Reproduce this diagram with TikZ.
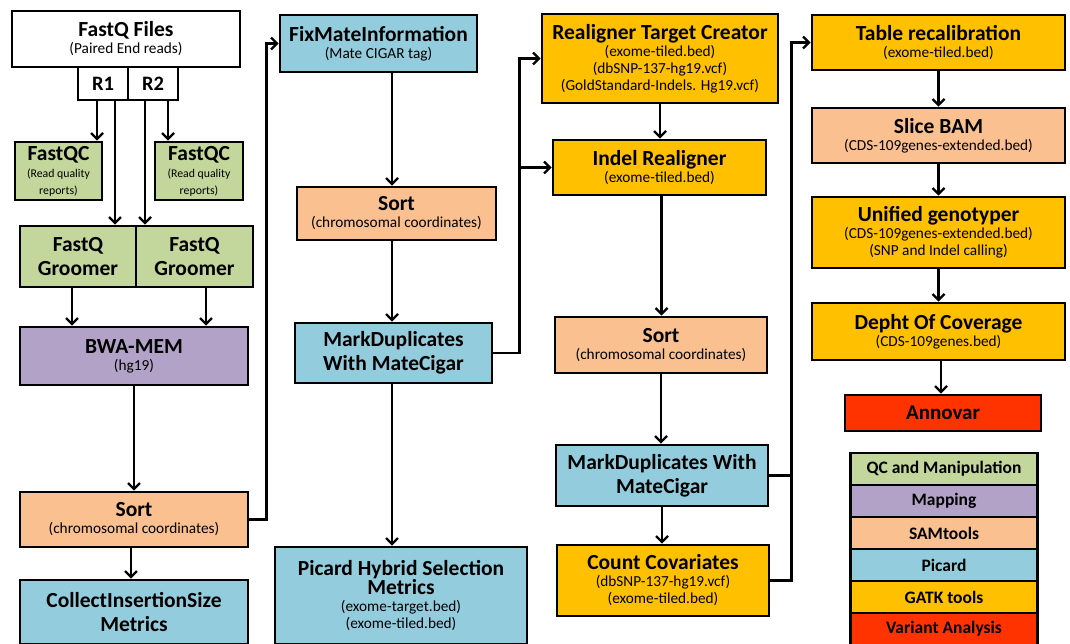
\documentclass[tikz,border=0pt]{standalone}
\usepackage{fontspec}
\setmainfont{Carlito}
\usetikzlibrary{arrows.meta}
\definecolor{cqc}{RGB}{195,214,155}
\definecolor{cmap}{RGB}{179,162,199}
\definecolor{csam}{RGB}{250,192,144}
\definecolor{cpic}{RGB}{147,205,221}
\definecolor{cgatk}{RGB}{255,192,0}
\definecolor{cvar}{RGB}{255,51,0}
\newcommand\hd[1]{{\fontsize{21.5}{24}\selectfont\bfseries #1}}
\newcommand\smalltxt[1]{{\fontsize{11.8}{13.5}\selectfont #1}}
\begin{document}
\begin{tikzpicture}[x=1pt,y=-1pt,
  box/.style={draw=black, line width=2.6pt, align=center, inner sep=1pt, text=black,
    font=\fontsize{15.3}{17}\selectfont},
  bigbox/.style={box, font=\fontsize{21.5}{24}\selectfont\bfseries},
  arr/.style={line width=2.4pt, -{Straight Barb[length=6pt,width=12pt]}},
  ln/.style={line width=2.4pt},
  leg/.style={draw=black, line width=1pt, minimum width=186pt, minimum height=31pt, inner sep=0pt,
    font=\fontsize{17.5}{19}\selectfont\bfseries}
]
\useasboundingbox (0,0) rectangle (1070,644);
% column 1
\node[box, fill=white, minimum width=228pt, minimum height=56pt] (fastq) at (126,39) {\hd{FastQ Files}\\(Paired End reads)};
\node[box, fill=white, minimum width=50pt, minimum height=33pt, font=\fontsize{20.5}{22}\selectfont\bfseries] (r1) at (103,83.5) {R1};
\node[box, fill=white, minimum width=50pt, minimum height=33pt, font=\fontsize{20.5}{22}\selectfont\bfseries] (r2) at (153,83.5) {R2};
\node[box, fill=cqc, minimum width=87pt, minimum height=58pt] (qc1) at (58.5,171) {\hd{FastQC}\\\smalltxt{(Read quality}\\\smalltxt{reports)}};
\node[box, fill=cqc, minimum width=88pt, minimum height=58pt] (qc2) at (199,171) {\hd{FastQC}\\\smalltxt{(Read quality}\\\smalltxt{reports)}};
\node[bigbox, fill=cqc, minimum width=116pt, minimum height=61pt] (gr1) at (78,256.5) {FastQ\\Groomer};
\node[bigbox, fill=cqc, minimum width=117pt, minimum height=61pt] (gr2) at (194.5,256.5) {FastQ\\Groomer};
\node[box, fill=cmap, minimum width=228pt, minimum height=58pt] (bwa) at (134,356) {\hd{BWA-MEM}\\(hg19)};
\node[box, fill=csam, minimum width=228pt, minimum height=55pt] (sort1) at (134,519.5) {\hd{Sort}\\(chromosomal coordinates)};
\node[bigbox, fill=cpic, minimum width=228pt, minimum height=64pt] (cis) at (134,612) {CollectInsertionSize\\Metrics};
% column 2
\node[box, fill=cpic, minimum width=197pt, minimum height=57pt] (fixmate) at (378.5,43.5) {\hd{FixMateInformation}\\(Mate CIGAR tag)};
\node[box, fill=csam, minimum width=199pt, minimum height=53pt] (sort2) at (396.5,213.5) {\hd{Sort}\\(chromosomal coordinates)};
\node[bigbox, fill=cpic, minimum width=197pt, minimum height=60pt] (md1) at (393.5,353) {MarkDuplicates\\With MateCigar};
\node[box, fill=cpic, minimum width=252pt, minimum height=97pt] (phs) at (401,595.5) {\hd{Picard Hybrid Selection}\\\hd{Metrics}\\(exome-target.bed)\\(exome-tiled.bed)};
% column 3
\node[box, fill=cgatk, minimum width=236pt, minimum height=89pt] (rtc) at (660,58.5) {\hd{Realigner Target Creator}\\(exome-tiled.bed)\\(dbSNP-137-hg19.vcf)\\(GoldStandard-Indels. Hg19.vcf)};
\node[box, fill=cgatk, minimum width=213pt, minimum height=55pt] (indel) at (659.5,167.5) {\hd{Indel Realigner}\\(exome-tiled.bed)};
\node[box, fill=csam, minimum width=212pt, minimum height=56pt] (sort3) at (661,345) {\hd{Sort}\\(chromosomal coordinates)};
\node[bigbox, fill=cpic, minimum width=212pt, minimum height=61pt] (md2) at (662,475.5) {MarkDuplicates With\\MateCigar};
\node[box, fill=cgatk, minimum width=212pt, minimum height=71pt] (cc) at (663,580.5) {\hd{Count Covariates}\\(dbSNP-137-hg19.vcf)\\(exome-tiled.bed)};
% column 4
\node[box, fill=cgatk, minimum width=253pt, minimum height=55pt] (trc) at (938.5,42.5) {\hd{Table recalibration}\\(exome-tiled.bed)};
\node[box, fill=csam, minimum width=253pt, minimum height=55pt] (slice) at (938.5,135.5) {\hd{Slice BAM}\\(CDS-109genes-extended.bed)};
\node[box, fill=cgatk, minimum width=253pt, minimum height=71pt] (ug) at (938.5,232.5) {\hd{Unified genotyper}\\(CDS-109genes-extended.bed)\\(SNP and Indel calling)};
\node[box, fill=cgatk, minimum width=253pt, minimum height=57pt] (doc) at (938.5,331.5) {\hd{Depht Of Coverage}\\(CDS-109genes.bed)};
\node[box, fill=cvar, minimum width=196pt, minimum height=36pt, font=\fontsize{21}{23}\selectfont\bfseries] (annovar) at (943,413) {Annovar};
% legend
\node[leg, fill=cqc] (l1) at (944,469) {QC and Manipulation};
\node[leg, fill=cmap, anchor=north] (l2) at (l1.south) {Mapping};
\node[leg, fill=csam, anchor=north] (l3) at (l2.south) {SAMtools};
\node[leg, fill=cpic, anchor=north] (l4) at (l3.south) {Picard};
\node[leg, fill=cgatk, anchor=north] (l5) at (l4.south) {GATK tools};
\node[leg, fill=cvar, anchor=north] (l6) at (l5.south) {Variant Analysis};
\draw[line width=2.6pt] (l1.north west) rectangle (l6.south east);
% connectors column 1
\draw[arr] ([xshift=-6pt]r1.south) -- ([xshift=-6pt]r1.south |- qc1.north);
\draw[arr] ([xshift=12pt]r1.south) -- ([xshift=12pt]r1.south |- gr1.north);
\draw[arr] ([xshift=-8pt]r2.south) -- ([xshift=-8pt]r2.south |- gr2.north);
\draw[arr] ([xshift=15pt]r2.south) -- ([xshift=15pt]r2.south |- qc2.north);
\draw[arr] ([xshift=-6pt]gr1.south) -- ([xshift=-6pt]gr1.south |- bwa.north);
\draw[arr] ([xshift=11.5pt]gr2.south) -- ([xshift=11.5pt]gr2.south |- bwa.north);
\draw[arr] (bwa.south) -- (sort1.north);
\draw[arr] ([xshift=-3pt]sort1.south) -- ([xshift=-3pt]sort1.south |- cis.north);
\draw[arr] (sort1.east) -- ++(17,0) |- (fixmate.west);
% column 2
\draw[arr] ([xshift=13.5pt]fixmate.south) -- ([xshift=13.5pt]fixmate.south |- sort2.north);
\draw[arr] ([xshift=-4.5pt]sort2.south) -- ([xshift=-4.5pt]sort2.south |- md1.north);
\draw[arr] ([xshift=-1.5pt]md1.south) -- ([xshift=-1.5pt]md1.south |- phs.north);
\draw[arr] (md1.east) -- ++(26,0) coordinate (j1) |- (rtc.west);
\draw[arr] (j1 |- indel.west) -- (indel.west);
% column 3
\draw[arr] (rtc.south) -- (rtc.south |- indel.north);
\draw[arr] ([xshift=2pt]indel.south) -- ([xshift=2pt]indel.south |- sort3.north);
\draw[arr] (sort3.south) -- (sort3.south |- md2.north);
\draw[arr] (md2.south) -- (md2.south |- cc.north);
\draw[arr] (cc.east) -- ++(21,0) coordinate (j2) |- (trc.west);
\draw[ln] (md2.east) -- (md2.east -| j2);
% column 4
\draw[arr] (trc.south) -- (slice.north);
\draw[arr] (slice.south) -- (ug.north);
\draw[arr] (ug.south) -- (doc.north);
\draw[arr] ([xshift=2.5pt]doc.south) -- ([xshift=2.5pt]doc.south |- annovar.north);
\end{tikzpicture}
\end{document}
